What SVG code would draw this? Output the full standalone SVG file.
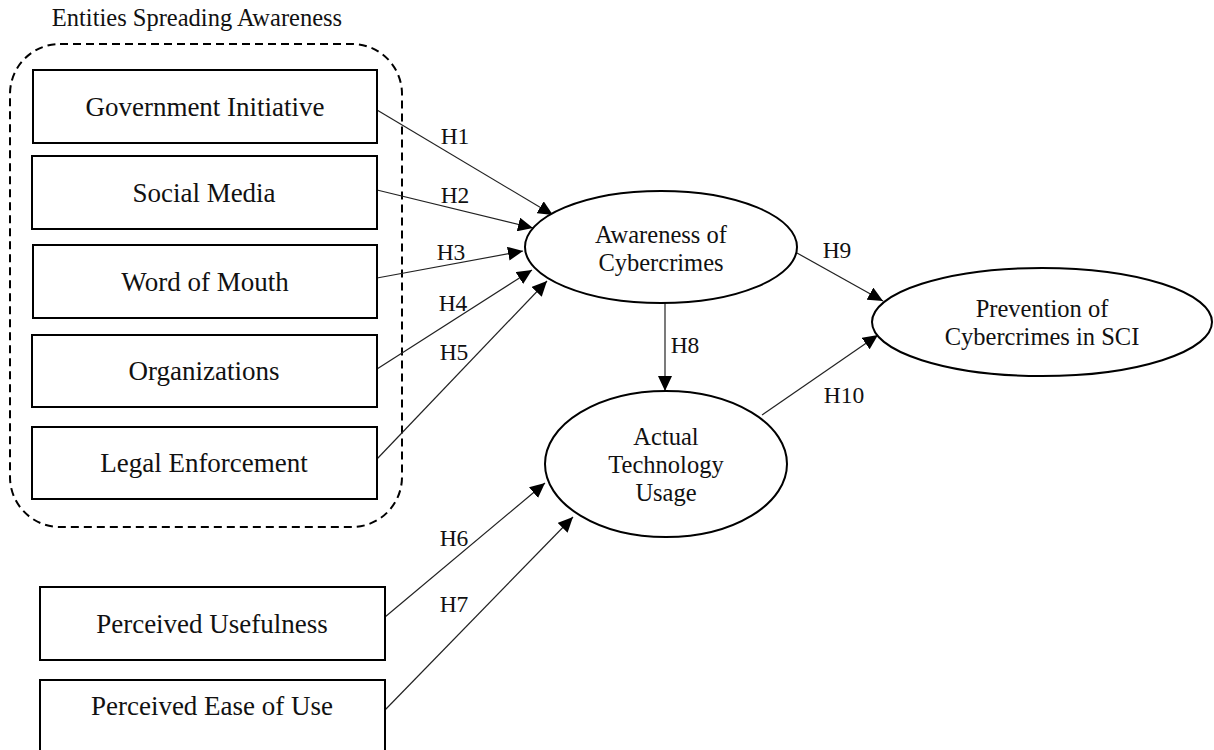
<svg xmlns="http://www.w3.org/2000/svg" width="1214" height="750" viewBox="0 0 1214 750">
<style>
.box{fill:#fff;stroke:#000;stroke-width:2}
.ell{fill:#fff;stroke:#000;stroke-width:2}
.bt{font-family:"Liberation Serif","Times New Roman",serif;font-size:27px;fill:#111;text-anchor:middle}
.et{font-family:"Liberation Serif","Times New Roman",serif;font-size:24.5px;fill:#111;text-anchor:middle}
.lb{font-family:"Liberation Serif","Times New Roman",serif;font-size:23.5px;fill:#111;text-anchor:middle}
.cn{stroke:#222;stroke-width:1.2;fill:none;marker-end:url(#ah)}
</style>
<defs>
<marker id="ah" markerUnits="userSpaceOnUse" markerWidth="16" markerHeight="14" refX="15" refY="7" orient="auto">
<path d="M0,0 L15,7 L0,14 Z" fill="#000"/>
</marker>
</defs>
<rect width="1214" height="750" fill="#fff"/>
<g id="group-entities">
<rect x="10" y="44" width="392" height="483" rx="50" ry="50" fill="none" stroke="#000" stroke-width="2" stroke-dasharray="8,5"/>
<text x="197" y="26" class="et">Entities Spreading Awareness</text>
</g>
<g id="connectors">
<line class="cn" x1="377" y1="110" x2="553" y2="215"/>
<line class="cn" x1="377" y1="190" x2="533" y2="228"/>
<line class="cn" x1="377" y1="278" x2="523" y2="251"/>
<line class="cn" x1="377" y1="369" x2="532" y2="270"/>
<line class="cn" x1="377" y1="459" x2="547" y2="281"/>
<line class="cn" x1="385" y1="617" x2="545" y2="483"/>
<line class="cn" x1="385" y1="710" x2="573" y2="517"/>
<line class="cn" x1="665" y1="303" x2="665" y2="391"/>
<line class="cn" x1="797" y1="253" x2="883" y2="301"/>
<line class="cn" x1="762" y1="415" x2="878" y2="335"/>
<text x="455" y="144" class="lb">H1</text>
<text x="455" y="203" class="lb">H2</text>
<text x="451" y="260" class="lb">H3</text>
<text x="453" y="311" class="lb">H4</text>
<text x="454" y="360" class="lb">H5</text>
<text x="454" y="546" class="lb">H6</text>
<text x="454" y="612" class="lb">H7</text>
<text x="685" y="353" class="lb">H8</text>
<text x="837" y="258" class="lb">H9</text>
<text x="844" y="403" class="lb">H10</text>
</g>
<g id="node-gov"><rect class="box" x="33" y="70" width="344" height="73"/><text x="205" y="116" class="bt">Government Initiative</text></g>
<g id="node-social"><rect class="box" x="32" y="156" width="345" height="73"/><text x="204" y="202" class="bt">Social Media</text></g>
<g id="node-wom"><rect class="box" x="33" y="245" width="344" height="73"/><text x="205" y="291" class="bt">Word of Mouth</text></g>
<g id="node-org"><rect class="box" x="32" y="335" width="345" height="72"/><text x="204" y="380" class="bt">Organizations</text></g>
<g id="node-legal"><rect class="box" x="32" y="427" width="345" height="72"/><text x="204" y="472" class="bt">Legal Enforcement</text></g>
<g id="node-pu"><rect class="box" x="40" y="587" width="345" height="73"/><text x="212" y="633" class="bt">Perceived Usefulness</text></g>
<g id="node-peou"><rect class="box" x="40" y="680" width="345" height="74"/><text x="212" y="715" class="bt">Perceived Ease of Use</text></g>
<g id="node-awareness"><ellipse class="ell" cx="661" cy="247" rx="136" ry="56"/><text x="661" y="243" class="et">Awareness of</text><text x="661" y="271" class="et">Cybercrimes</text></g>
<g id="node-atu"><ellipse class="ell" cx="666" cy="464" rx="121" ry="73"/><text x="666" y="445" class="et">Actual</text><text x="666" y="473" class="et">Technology</text><text x="666" y="501" class="et">Usage</text></g>
<g id="node-prevention"><ellipse class="ell" cx="1042" cy="322" rx="170" ry="54"/><text x="1042" y="317" class="et">Prevention of</text><text x="1042" y="345" class="et">Cybercrimes in SCI</text></g>
</svg>
